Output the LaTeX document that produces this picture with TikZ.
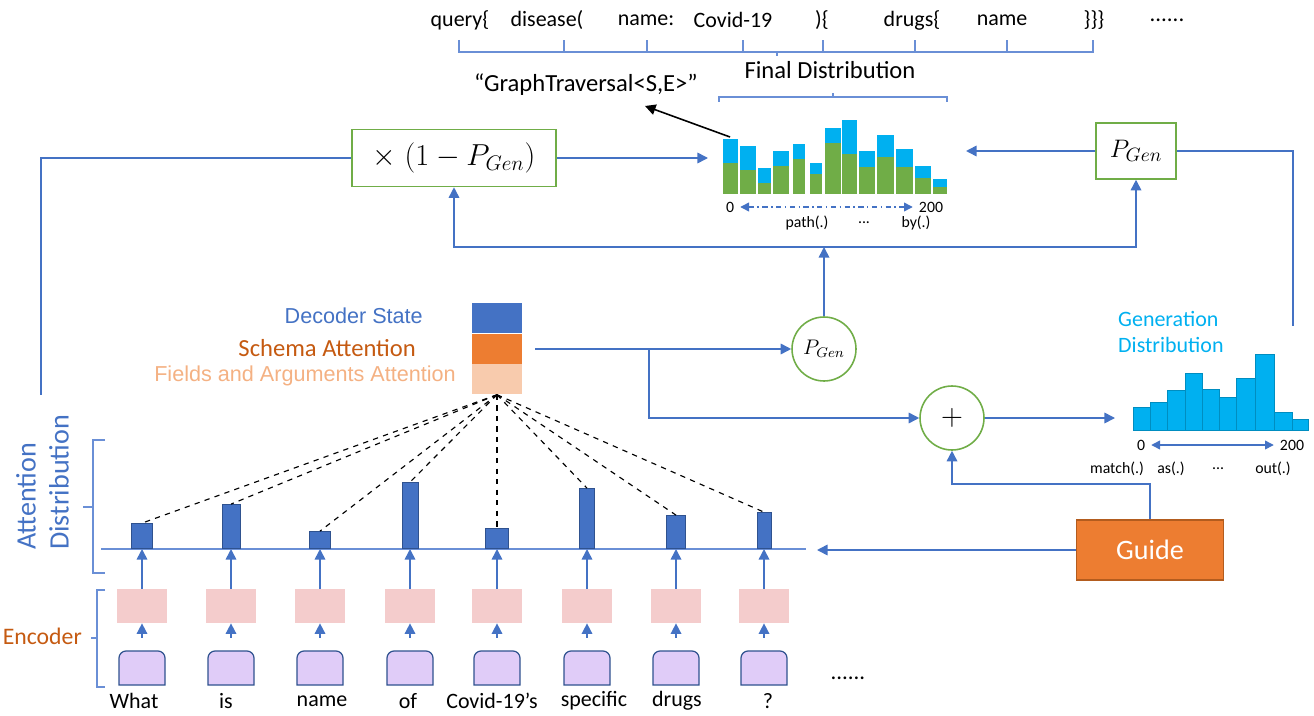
\documentclass[tikz,border=0pt]{standalone}
\usepackage{fontspec}
\setmainfont{Carlito}
\newfontfamily\arialfont{Liberation Sans}
\usetikzlibrary{arrows.meta,positioning}
\definecolor{lineblue}{HTML}{4472C4}
\definecolor{braceblue}{HTML}{6A8FD6}
\definecolor{boxgreen}{HTML}{70AD47}
\definecolor{distblue}{HTML}{00B0F0}
\definecolor{distgreen}{HTML}{70AD47}
\definecolor{guideorange}{HTML}{ED7D31}
\definecolor{guideedge}{HTML}{B35C1E}
\definecolor{schemaorange}{HTML}{C55A11}
\definecolor{fieldpeach}{HTML}{F8CBAD}
\definecolor{fieldtext}{HTML}{F4B183}
\definecolor{encpink}{HTML}{F4CCCC}
\definecolor{toklilac}{HTML}{E0CCF8}
\definecolor{tokedge}{HTML}{2F528F}

\begin{document}
\begin{tikzpicture}[x=0.02cm, y=-0.02cm,
    flow/.style={draw=lineblue, line width=0.9pt},
    arr/.style={flow, -{Triangle[length=6pt,width=6pt]}},
    brace/.style={draw=braceblue, line width=0.7pt},
    gbox/.style={draw=boxgreen, line width=0.9pt, fill=white, inner sep=0pt},
    attbar/.style={fill=lineblue, draw=tokedge, line width=0.5pt, inner sep=0pt, anchor=south},
    encbox/.style={fill=encpink, inner sep=0pt, minimum width=1cm, minimum height=0.68cm},
    tokbox/.style={fill=toklilac, draw=tokedge, line width=0.7pt},
    qtext/.style={font=\fontsize{12.5}{14}\selectfont},
    small/.style={font=\fontsize{9}{10}\selectfont}]
    \useasboundingbox (0,0) rectangle (1314,716);

    % Query tokens and bracket
    \foreach \x/\w [count=\i] in {460/query\{, 547/disease(, 646/name:, 733/Covid-19, 822/)\{, 912/drugs\{, 1002/name, 1094/\}\}\}}
        \node[qtext] (q\i) at (\x,20) {\w};
    \node[font=\fontsize{13}{14}\selectfont] (qdots) at (1167,20) {......};
    \draw[brace] (459,40) -- (459,52) -- (1093,52) -- (1093,40);
    \foreach \t in {564,647,743,823,915,1007}
        \draw[brace] (\t,52) -- (\t,40);
    \draw[brace] (777,52) -- (777,56);

    % Final distribution
    \node[font=\fontsize{14}{16}\selectfont] (finlab) at (830,70) {Final Distribution};
    \draw[brace] (719,102) -- (719,97) -- (947,97) -- (947,102);
    \draw[brace] (833,97) -- (833,93);
    \node[font=\fontsize{14}{16}\selectfont] (trav) at (586,85) {“GraphTraversal<S,E>”};
    \coordinate (travtip) at (645,106);
    \coordinate (finaltop) at (730,137);
    \draw[line width=0.9pt, -{Triangle[length=6pt,width=6pt]}] (finaltop) -- (travtip);
    \foreach \a/\b/\t/\g in {723/738/139/163, 740/756/146/170, 758/771/168/183, 773/789/151/166,
        793/805/144/159, 810/822/163/174, 825/841/128/143, 842/857/120/154, 859/875/151/167,
        877/894/135/157, 896/913/149/167, 915/931/166/178, 933/947/179/187}
    {
        \fill[distblue] (\a,\t) rectangle (\b,194);
        \fill[distgreen] (\a,\g) rectangle (\b,194);
    }
    \node[small] (f0) at (730,207) {0};
    \node[small] (f200) at (931,207) {200};
    \draw[lineblue, line width=0.8pt, dash dot, {Triangle[length=5pt,width=5pt]}-{Triangle[length=5pt,width=5pt]}] (f0) -- (f200);
    \node[small] at (807,223) {path(.)};
    \node[small] at (864,223) {...};
    \node[small] at (916,223) {by(.)};

    % Mixing boxes
    \node[gbox, minimum width=4.08cm, minimum height=1.14cm, font=\fontsize{17}{20}\selectfont] (mulbox) at (454,158) {$\times\;(1-P_{Gen})$};
    \node[gbox, minimum width=1.6cm, minimum height=1.12cm, font=\fontsize{15}{18}\selectfont] (pgenbox) at (1136,151) {$P_{Gen}$};
    \coordinate (finalin) at (708,158);
    \coordinate (finalright) at (966,151);
    \draw[arr] (mulbox.east) -- (finalin);
    \draw[arr] (pgenbox.west) -- (finalright);
    \coordinate (attnup) at (41,395);
    \draw[flow] (mulbox.west) -| (attnup);
    \coordinate (gentop) at (1293,326);
    \draw[flow] (pgenbox.east) -| (gentop);

    % Decoder side
    \node[fill=lineblue, minimum width=1cm, minimum height=0.6cm, inner sep=0pt] (dec) at (497,318) {};
    \node[fill=guideorange, minimum width=1cm, minimum height=0.6cm, inner sep=0pt, below=0pt of dec] (sch) {};
    \node[fill=fieldpeach, minimum width=1cm, minimum height=0.6cm, inner sep=0pt, below=0pt of sch] (fld) {};
    \node[anchor=east, text=lineblue, font=\arialfont\fontsize{12.3}{14}\selectfont] (declab) at (429,316) {Decoder State};
    \node[anchor=east, text=schemaorange, font=\fontsize{14}{16}\selectfont] (schlab) at (422,348) {Schema Attention};
    \node[anchor=east, text=fieldtext, font=\arialfont\fontsize{12.3}{14}\selectfont] (fldlab) at (462,376) {Fields and Arguments Attention};

    \node[circle, gbox, minimum size=1.28cm, font=\fontsize{11.5}{13}\selectfont] (pgenc) at (824,349) {$P_{Gen}$};
    \node[circle, gbox, minimum size=1.28cm, font=\fontsize{16}{18}\selectfont] (plus) at (952,418) {$+$};
    \coordinate (stackout) at (535,349);
    \coordinate (branch) at (649,349);
    \draw[arr] (stackout) -- (pgenc.west);
    \draw[arr] (branch) |- (plus.west);
    \coordinate (junc) at (824,247);
    \draw[arr] (pgenc.north) -- (junc);
    \draw[arr] (junc) -| (mulbox.south);
    \draw[arr] (junc) -| (pgenbox.south);

    % Generation distribution
    \node[anchor=west, align=left, text=distblue, font=\fontsize{12.5}{15.3}\selectfont] (genlab) at (1112,332) {Generation\\Distribution};
    \coordinate (genin) at (1115,418);
    \draw[arr] (plus.east) -- (genin);
    \foreach \a/\b/\t in {1133/1150/407, 1150/1167/402, 1167/1185/390, 1185/1202/373, 1202/1219/389,
        1219/1236/397, 1236/1255/378, 1255/1274/354, 1274/1292/412, 1292/1308/419}
        \filldraw[fill=distblue, draw=distblue!80!black, line width=0.3pt] (\a,\t) rectangle (\b,430);
    \node[small] (g0) at (1141,445) {0};
    \node[small] (g200) at (1292,445) {200};
    \draw[lineblue, line width=0.8pt, {Triangle[length=5pt,width=5pt]}-{Triangle[length=5pt,width=5pt]}] (g0) -- (g200);
    \node[small] at (1117,469) {match(.)};
    \node[small] at (1171,469) {as(.)};
    \node[small] at (1218,469) {...};
    \node[small] at (1273,469) {out(.)};

    % Guide
    \node[fill=guideorange, draw=guideedge, line width=1pt, minimum width=2.94cm, minimum height=1.2cm,
        text=white, font=\fontsize{16}{18}\selectfont] (guide) at (1150,550) {Guide};
    \draw[arr] (guide.north) -- ++(0,-35) -| (plus.south);
    \coordinate (basein) at (817,550);
    \draw[arr] (guide.west) -- (basein);

    % Attention distribution and encoder
    \coordinate (baseL) at (101,549);
    \coordinate (baseR) at (806,549);
    \draw[braceblue, line width=0.9pt] (baseL) -- (baseR);
    \foreach \x/\top/\w/\wx/\word [count=\i] in {142/524/21/134/What, 231/505/18/226/is, 320/532/21/322/name,
        410/483/16/408/of, 497/529/23/492/Covid-19’s, 587/489/15/594/specific, 676/516/19/677/drugs, 764/513/14/768/?}
    {
        \draw[tokbox] (\x-23,685) [rounded corners=4pt] -- (\x-23,651) -- (\x+23,651) [sharp corners] -- (\x+23,685) -- cycle;
        \node[minimum width=0.94cm, minimum height=0.68cm, inner sep=0pt] (tok\i) at (\x,668) {};
        \node[encbox] (enc\i) at (\x,606) {};
        \node[attbar, minimum width=\w*0.02cm, minimum height={(549-\top)*0.02cm}] (att\i) at (\x,549) {};
        \draw[arr] ([yshift=0.26cm]tok\i.north) -- (enc\i.south);
        \draw[arr] (enc\i.north) -- (att\i.south);
        \draw[dashed, line width=0.65pt] (fld.south) -- (att\i.north);
        \node[font=\fontsize{12.5}{14}\selectfont] (w\i) at (\wx,701) {\word};
    }
    \node[font=\fontsize{13}{14}\selectfont] (tdots) at (848,678) {......};

    % Side labels
    \node[rotate=90, anchor=west, text=lineblue, font=\fontsize{16}{18}\selectfont] (attlab1) at (26,556) {Attention};
    \node[rotate=90, anchor=west, text=lineblue, font=\fontsize{16}{18}\selectfont] (attlab2) at (59,556) {Distribution};
    \draw[brace] (105,440) -- (93,440) -- (93,573) -- (105,573);
    \draw[brace] (93,507) -- (83,507);
    \node[anchor=east, text=schemaorange, font=\fontsize{13.5}{15}\selectfont] (enclab) at (88,636) {Encoder};
    \draw[brace] (105,590) -- (97,590) -- (97,687) -- (105,687);
    \draw[brace] (97,638) -- (91,638);
\end{tikzpicture}
\end{document}
